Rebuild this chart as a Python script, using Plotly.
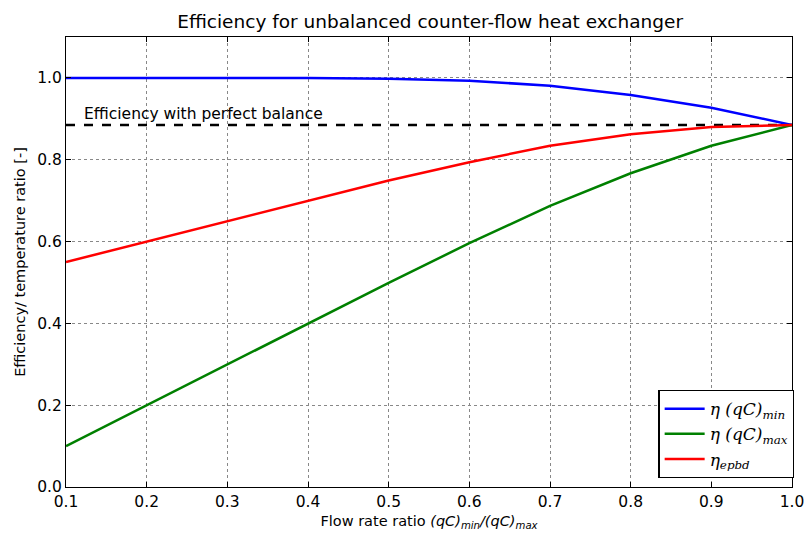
import plotly.graph_objects as go

x_ratio = [0.1, 0.2, 0.3, 0.4, 0.5, 0.6, 0.7, 0.8, 0.9, 1.0]
eta_min = [1.000, 1.000, 1.000, 1.000, 0.998, 0.993, 0.981, 0.958, 0.927, 0.885]
eta_max = [0.100, 0.200, 0.300, 0.400, 0.499, 0.596, 0.687, 0.767, 0.834, 0.885]
eta_epbd = [0.550, 0.600, 0.650, 0.700, 0.749, 0.794, 0.834, 0.862, 0.880, 0.885]
eta_balance = 0.885
x_ticks = [0.1, 0.2, 0.3, 0.4, 0.5, 0.6, 0.7, 0.8, 0.9, 1.0]
y_ticks = [0.0, 0.2, 0.4, 0.6, 0.8, 1.0]

font = "DejaVu Sans"
fig = go.Figure()
fig.add_trace(go.Scatter(x=[x_ratio[0], x_ratio[-1]], y=[eta_balance, eta_balance], mode="lines",
                         line=dict(color="black", width=2.5, dash="dash"), showlegend=False, hoverinfo="skip"))
fig.add_trace(go.Scatter(x=x_ratio, y=eta_min, mode="lines", line=dict(color="#0000ff", width=2.5),
                         name="<i>η (qC)<sub>min</sub></i>"))
fig.add_trace(go.Scatter(x=x_ratio, y=eta_max, mode="lines", line=dict(color="#008000", width=2.5),
                         name="<i>η (qC)<sub>max</sub></i>"))
fig.add_trace(go.Scatter(x=x_ratio, y=eta_epbd, mode="lines", line=dict(color="#ff0000", width=2.5),
                         name="<i>η<sub>epbd</sub></i>"))

fig.add_annotation(x=0.12, y=eta_balance, text="Efficiency with perfect balance", showarrow=False,
                   xanchor="left", yanchor="bottom", yshift=0, font=dict(family=font, size=15.5, color="black"))

axis_common = dict(showline=True, linecolor="black", linewidth=1.2, mirror="ticks", ticks="inside",
                   ticklen=5, tickcolor="black", showgrid=True, gridcolor="#888888", griddash="dot",
                   gridwidth=1, zeroline=False, automargin=False, ticklabeloverflow="allow",
                   tickfont=dict(family=font, size=15.5, color="black"))
fig.update_xaxes(range=[0.1, 1.0], tickvals=x_ticks, ticktext=[f"{v:.1f}" for v in x_ticks],
                 title=dict(text="Flow rate ratio <i>(qC)<sub>min</sub>/(qC)<sub>max</sub></i>",
                            font=dict(family=font, size=14.5, color="black"), standoff=6), **axis_common)
fig.update_yaxes(range=[0.0, 1.1], tickvals=y_ticks, ticktext=[f"{v:.1f}" for v in y_ticks],
                 title=dict(text="Efficiency/ temperature ratio [-]",
                            font=dict(family=font, size=14.5, color="black"), standoff=8), **axis_common)

fig.update_layout(
    width=804, height=533,
    margin=dict(l=66, r=11, t=37, b=46),
    paper_bgcolor="white", plot_bgcolor="white",
    title=dict(text="Efficiency for unbalanced counter-flow heat exchanger", x=0.535, xanchor="center",
               y=0.96, yanchor="middle", font=dict(family=font, size=18.5, color="black")),
    legend=dict(x=1.002, y=0.02, xanchor="right", yanchor="bottom", bordercolor="black", borderwidth=1.2,
                bgcolor="white", font=dict(family="DejaVu Serif", size=17, color="black"),
                itemwidth=40, tracegroupgap=6),
    showlegend=True,
)
fig.write_html("out.html", config={"displayModeBar": False},
               post_script="document.body.style.margin='0';document.body.style.overflow='hidden';")
